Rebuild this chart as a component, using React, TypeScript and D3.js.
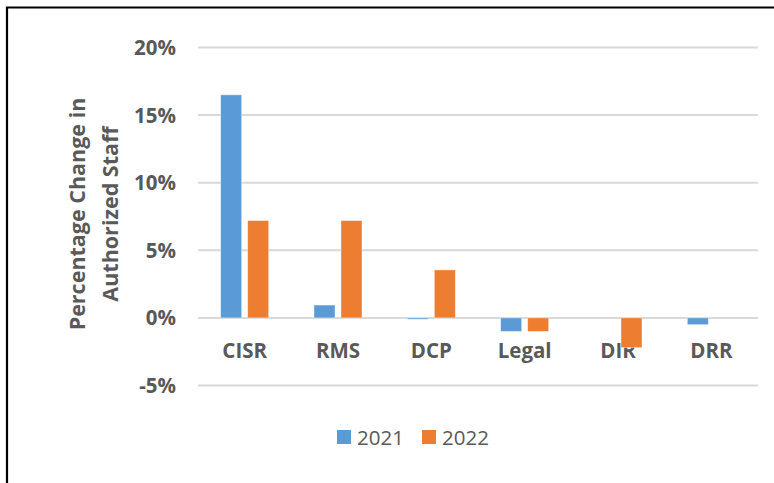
import React from "react";
import * as d3 from "d3";

const categories = ["CISR", "RMS", "DCP", "Legal", "DIR", "DRR"];
const seriesNames = ["2021", "2022"];
const values2021 = [16.5, 0.95, -0.1, -1.0, 0, -0.5];
const values2022 = [7.2, 7.2, 3.55, -1.0, -2.2, 0];
const yTicks = [-5, 0, 5, 10, 15, 20];
const colors = ["#5B9BD5", "#ED7D31"];

const W = 774;
const H = 483;
const TEXT = "#595959";
const FONT = "'Open Sans', 'Noto Sans', sans-serif";

export default function App() {
  const y = d3.scaleLinear().domain([-5, 20]).range([385.5, 47.5]);
  const x0 = d3.scaleBand<string>().domain(categories).range([198, 758]).padding(0);
  const x1 = d3
    .scaleBand<string>()
    .domain(seriesNames)
    .range([0, 48])
    .paddingInner(0.222)
    .paddingOuter(0);
  const series = [values2021, values2022];
  const fmt = (v: number) => `${v}%`;

  return (
    <div style={{ position: "absolute", left: 0, top: 0 }}>
      <svg width={W} height={H} style={{ display: "block", background: "#fff" }}>
        <rect x={0} y={0} width={W} height={H} fill="#fff" />
        {/* border */}
        <path d={`M7,${H} L7,7.5 L${W},7.5`} fill="none" stroke="#000" strokeWidth={2.2} />

        {/* gridlines */}
        {yTicks.map((t) => (
          <line
            key={t}
            x1={198}
            x2={758}
            y1={y(t)}
            y2={y(t)}
            stroke="#D9D9D9"
            strokeWidth={2}
          />
        ))}

        {/* y tick labels */}
        {yTicks.map((t) => (
          <text
            key={"l" + t}
            x={176}
            y={y(t)}
            dy="0.37em"
            textAnchor="end"
            fontFamily={FONT}
            fontWeight="bold"
            fontSize={20.5}
            fill={TEXT}
          >
            {fmt(t)}
          </text>
        ))}

        {/* category labels */}
        {categories.map((c) => (
          <text
            key={"c" + c}
            x={(x0(c) as number) + x0.bandwidth() / 2}
            y={357.5}
            textAnchor="middle"
            fontFamily={FONT}
            fontWeight="bold"
            fontSize={20.5}
            fill={TEXT}
          >
            {c}
          </text>
        ))}

        {/* bars */}
        {categories.map((c, i) => {
          const gx = (x0(c) as number) + x0.bandwidth() / 2 - 24;
          return seriesNames.map((s, si) => {
            const v = series[si][i];
            if (v === 0) return null;
            const top = y(Math.max(0, v));
            const bot = y(Math.min(0, v));
            return (
              <rect
                key={c + s}
                x={gx + (x1(s) as number)}
                y={top}
                width={x1.bandwidth()}
                height={Math.max(1, bot - top)}
                fill={colors[si]}
                stroke="#ffffff"
                strokeOpacity={0.5}
                strokeWidth={0.8}
              />
            );
          });
        })}

        {/* y axis title */}
        <text
          transform={`translate(0,214) rotate(-90)`}
          textAnchor="middle"
          fontFamily={FONT}
          fontWeight="bold"
          fontSize={21.5}
          fill={TEXT}
        >
          <tspan x={0} y={85}>Percentage Change in</tspan>
          <tspan x={0} y={118}>Authorized Staff</tspan>
        </text>

        {/* legend */}
        {seriesNames.map((s, si) => {
          const lx = si === 0 ? 337 : 422;
          return (
            <g key={"lg" + s}>
              <rect x={lx} y={430} width={14} height={14} fill={colors[si]} />
              <text
                x={lx + 20}
                y={444.5}
                fontFamily={FONT}
                fontSize={20.5}
                fill={TEXT}
              >
                {s}
              </text>
            </g>
          );
        })}
      </svg>
    </div>
  );
}
